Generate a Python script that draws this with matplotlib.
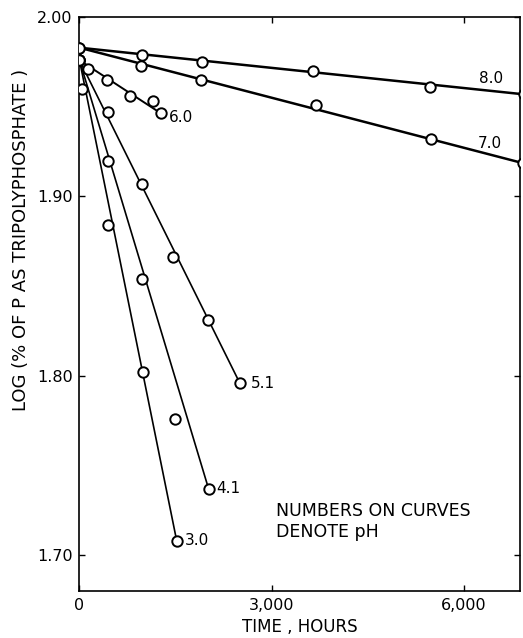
import matplotlib
matplotlib.use('Agg')
import matplotlib.pyplot as plt

# hours vs log(% of P as tripolyphosphate), one list pair per pH
t_80 = [0, 969, 1911, 3655, 5482, 6938]
y_80 = [1.983, 1.979, 1.975, 1.970, 1.961, 1.957]

t_70 = [0, 958, 1900, 3691, 5497, 6927]
y_70 = [1.983, 1.973, 1.965, 1.951, 1.932, 1.9186]

t_60 = [0, 130, 435, 785, 1150, 1267]
y_60 = [1.976, 1.971, 1.965, 1.956, 1.953, 1.9465]

t_51 = [0, 445, 969, 1455, 2000, 2503]
y_51 = [1.976, 1.947, 1.907, 1.866, 1.831, 1.796]

t_41 = [0, 445, 978, 1492, 2016]
y_41 = [1.976, 1.920, 1.854, 1.776, 1.737]

t_30 = [0, 42, 445, 995, 1518]
y_30 = [1.976, 1.960, 1.884, 1.802, 1.708]

ph_labels = ['8.0', '7.0', '6.0', '5.1', '4.1', '3.0']

plt.rcParams['font.family'] = 'DejaVu Sans'

fig = plt.figure(figsize=(5.23, 6.38), dpi=100)
ax = fig.add_axes([0.152, 0.074, 0.842, 0.899])

series = [(t_80, y_80, 1.8), (t_70, y_70, 1.8), (t_60, y_60, 1.4),
          (t_51, y_51, 1.2), (t_41, y_41, 1.2), (t_30, y_30, 1.2)]
for t, y, lw in series:
    # straight fitted line from first to last reading
    ax.plot([t[0], t[-1]], [y[0], y[-1]], color='black', lw=lw, zorder=2)
    ax.plot(t, y, 'o', ms=7.5, mfc='white', mec='black', mew=1.4, zorder=3)

# curve labels (pH)
fs = 11
ax.text(6426, 1.966, ph_labels[0], ha='center', va='center', fontsize=fs)
ax.text(6410, 1.9296, ph_labels[1], ha='center', va='center', fontsize=fs)
ax.text(1395, 1.944, ph_labels[2], ha='left', va='center', fontsize=fs)
ax.text(2680, 1.7955, ph_labels[3], ha='left', va='center', fontsize=fs)
ax.text(2140, 1.737, ph_labels[4], ha='left', va='center', fontsize=fs)
ax.text(1650, 1.708, ph_labels[5], ha='left', va='center', fontsize=fs)

ax.text(3072, 1.7245, 'NUMBERS ON CURVES', ha='left', va='center', fontsize=12.5)
ax.text(3072, 1.7128, 'DENOTE pH', ha='left', va='center', fontsize=12.5)

ax.set_xlim(0, 6880)
ax.set_ylim(1.68, 2.00)
ax.set_xticks([0, 3000, 6000])
ax.set_xticklabels(['0', '3,000', '6,000'])
ax.set_yticks([1.70, 1.80, 1.90, 2.00])
ax.set_yticklabels(['1.70', '1.80', '1.90', '2.00'])
ax.tick_params(direction='in', length=4, width=1, labelsize=11.5,
               top=True, right=True, pad=5)
for s in ax.spines.values():
    s.set_linewidth(1.2)

fig.text(0.040, 0.624, 'LOG (% OF P AS TRIPOLYPHOSPHATE )', rotation=90,
         ha='center', va='center', fontsize=13)
fig.text(0.574, 0.017, 'TIME , HOURS', ha='center', va='center', fontsize=12)

fig.savefig('out.png', dpi=100)
